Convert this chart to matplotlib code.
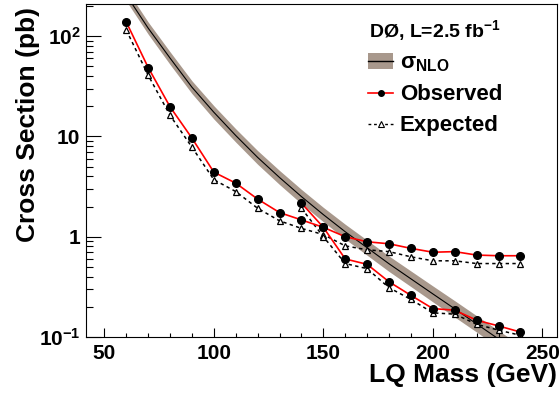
import matplotlib
matplotlib.use('Agg')
import matplotlib.pyplot as plt
from matplotlib.patches import Patch
from matplotlib.lines import Line2D
from matplotlib.legend_handler import HandlerTuple
from matplotlib.ticker import FixedLocator, FixedFormatter, LogLocator, NullFormatter, MultipleLocator

plt.rcParams['font.family'] = ['Liberation Sans', 'DejaVu Sans']
plt.rcParams['font.weight'] = 'bold'
plt.rcParams['axes.labelweight'] = 'bold'
plt.rcParams['mathtext.fontset'] = 'custom'
plt.rcParams['mathtext.rm'] = 'Liberation Sans:bold'
plt.rcParams['mathtext.bf'] = 'Liberation Sans:bold'
plt.rcParams['mathtext.it'] = 'Liberation Sans:bold:italic'

# theory (NLO) curve with its uncertainty band
mass_th = [60, 70, 80, 90, 100, 110, 120, 130, 140, 150,
           160, 170, 180, 190, 200, 210, 220, 230, 240]
sigma_nlo = [257, 120, 60.3, 30.9, 17.4, 10.2, 6.17, 3.89, 2.51, 1.66,
             1.12, 0.776, 0.537, 0.380, 0.269, 0.191, 0.135, 0.0955, 0.0676]
sigma_hi = [295, 138, 69.7, 35.8, 20.2, 11.9, 7.21, 4.57, 2.96, 1.96,
            1.33, 0.923, 0.641, 0.455, 0.323, 0.230, 0.163, 0.116, 0.0822]
sigma_lo = [224, 104.5, 52.1, 26.7, 14.9, 8.77, 5.27, 3.31, 2.13, 1.41,
            0.946, 0.653, 0.450, 0.318, 0.224, 0.158, 0.112, 0.0789, 0.0556]

# limit set 1 (full mass range)
mass_1 = [60, 70, 80, 90, 100, 110, 120, 130, 140, 150,
          160, 170, 180, 190, 200, 210, 220, 230, 240]
obs_1 = [138, 48.6, 19.7, 9.6, 4.4, 3.42, 2.37, 1.74, 1.47, 1.24,
         1.0, 0.89, 0.85, 0.765, 0.70, 0.71, 0.656, 0.646, 0.646]
exp_1 = [115, 40.7, 16.2, 7.8, 3.7, 2.82, 1.92, 1.44, 1.21, 1.05,
         0.81, 0.74, 0.71, 0.63, 0.575, 0.575, 0.54, 0.54, 0.54]

# limit set 2 (from 140 GeV)
mass_2 = [140, 150, 160, 170, 180, 190, 200, 210, 220, 230, 240]
obs_2 = [2.16, 1.24, 0.60, 0.53, 0.355, 0.26, 0.192, 0.185, 0.147, 0.129, 0.112]
exp_2 = [1.92, 1.0, 0.54, 0.48, 0.31, 0.237, 0.174, 0.169, 0.134, 0.117, 0.104]

band_col = '#a8988c'

fig = plt.figure(figsize=(5.59, 3.96), dpi=100)
ax = fig.add_axes([86/559, 59/396, 471/559, 333/396])

ax.fill_between(mass_th, sigma_lo, sigma_hi, color=band_col, lw=0)
ax.plot(mass_th, sigma_nlo, color='black', lw=0.8)

for m, e in [(mass_1, exp_1), (mass_2, exp_2)]:
    ax.plot(m, e, color='black', lw=1.1, ls=(0, (2.2, 2.2)),
            marker='^', ms=5, mfc='white', mec='black', mew=0.9)
for m, o in [(mass_1, obs_1), (mass_2, obs_2)]:
    ax.plot(m, o, color='red', lw=1.2,
            marker='o', ms=5.5, mfc='black', mec='black')

ax.set_yscale('log')
ax.set_xlim(41.6, 256.7)
ax.set_ylim(0.1, 209)

ax.xaxis.set_major_locator(MultipleLocator(50))
ax.xaxis.set_minor_locator(MultipleLocator(10))
ax.yaxis.set_major_locator(FixedLocator([0.1, 1, 10, 100]))
ax.yaxis.set_major_formatter(FixedFormatter(['10$^{-1}$', '1', '10', '10$^{2}$']))
ax.yaxis.set_minor_locator(LogLocator(base=10, subs=range(2, 10)))
ax.yaxis.set_minor_formatter(NullFormatter())

ax.tick_params(axis='both', which='both', direction='in', top=False, right=False,
               width=0.8, labelsize=15)
ax.tick_params(axis='x', which='major', length=6.5, pad=5)
ax.tick_params(axis='x', which='minor', length=3.2)
ax.tick_params(axis='y', which='major', length=11, pad=4)
ax.tick_params(axis='y', which='minor', length=5)
for sp in ax.spines.values():
    sp.set_linewidth(0.8)

ax.set_xlabel('LQ Mass (GeV)', fontsize=19, fontweight='bold', loc='right')
ax.xaxis.set_label_coords(1.0, -0.078)
ax.set_ylabel('Cross Section (pb)', fontsize=19, fontweight='bold', loc='top')
ax.yaxis.set_label_coords(-0.098, 0.99)

h_nlo = (Patch(facecolor=band_col, edgecolor='none'), Line2D([], [], color='black', lw=1.0))
h_obs = Line2D([], [], color='red', lw=1.2, marker='o', ms=4, mfc='black', mec='black')
h_exp = Line2D([], [], color='black', lw=1.0, ls=(0, (2, 2)), marker='^', ms=4,
               mfc='white', mec='black', mew=0.8)
leg = ax.legend([h_nlo, h_obs, h_exp], ['σ$_{\\mathbf{NLO}}$', 'Observed', 'Expected'],
                handler_map={tuple: HandlerTuple(ndivide=1, pad=0)},
                loc='upper left', bbox_to_anchor=(368/559, 1 - 18/396),
                bbox_transform=fig.transFigure, frameon=False, fontsize=16,
                title='DØ, L=2.5 fb$^{-1}$', title_fontproperties={'size': 14, 'weight': 'bold'},
                borderpad=0, handlelength=1.13, handleheight=0.68, handletextpad=0.3,
                labelspacing=0.45, borderaxespad=0)

fig.savefig('out.png', dpi=100)
